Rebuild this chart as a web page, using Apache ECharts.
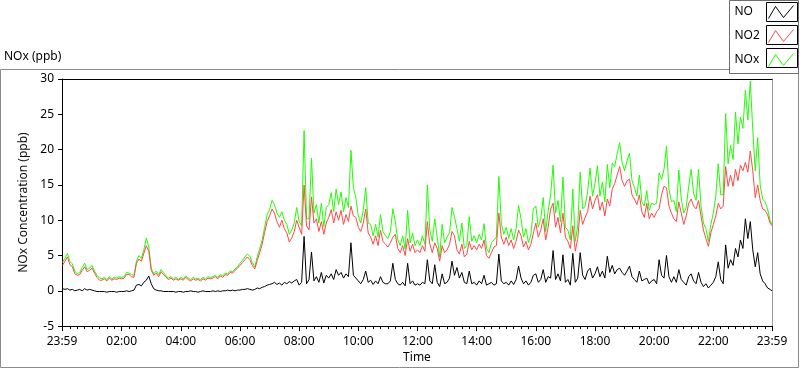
<!DOCTYPE html>
<html>
<head>
<meta charset="utf-8">
<script src="https://cdn.jsdelivr.net/npm/echarts@6/dist/echarts.min.js"></script>
<style>
  html, body { margin: 0; padding: 0; background: #fff; }
  #chart { width: 800px; height: 369px; }
</style>
</head>
<body>
<div id="chart"></div>
<script>
// 5 minute readings from 00:00, last one is 23:59
const noValues = [
  0.3, 0.2, 0.3, 0.1, 0.2, 0.0, 0.1, 0.2, 0.0, 0.3, 0.1, 0.2,
  0.1, 0.0, -0.1, -0.1, -0.1, -0.1, -0.2, -0.1, -0.1, -0.1, -0.2, -0.1,
  -0.1, -0.1, 0.0, -0.1, 0.0, 0.1, 0.8, 0.9, 0.7, 1.2, 1.5, 2.1,
  1.0, 0.3, 0.1, 0.0, 0.0, -0.1, -0.1, -0.1, -0.1, -0.1, -0.2, -0.1,
  -0.1, -0.2, -0.1, -0.1, 0.0, -0.1, -0.1, -0.2, -0.1, 0.0, -0.1, -0.1,
  -0.1, 0.0, -0.1, 0.0, -0.1, 0.0, 0.0, 0.1, 0.0, 0.1, 0.0, 0.1,
  0.1, 0.2, 0.2, 0.3, 0.2, 0.1, 0.2, 0.4, 0.3, 0.5, 0.6, 0.8,
  0.9, 1.0, 1.2, 0.9, 1.1, 0.8, 1.2, 1.0, 1.3, 1.1, 1.4, 1.6,
  0.8, 1.2, 7.7, 1.0, 1.6, 5.5, 1.4, 2.0, 1.2, 2.6, 1.1, 2.2,
  1.8, 2.4, 1.6, 3.0, 2.2, 2.6, 1.8, 2.4, 2.0, 6.8, 2.2, 1.8,
  1.4, 1.0, 1.6, 2.8, 1.2, 1.5, 0.9, 1.4, 1.0, 2.0, 1.2, 1.0,
  1.0, 1.4, 3.9, 1.6, 1.0, 0.8, 1.2, 0.7, 3.9, 1.0, 1.4, 0.8,
  1.0, 0.8, 1.2, 1.0, 4.4, 1.4, 1.0, 3.7, 1.2, 0.6, 2.4, 1.0,
  1.2, 1.8, 4.2, 2.2, 3.3, 1.8, 2.6, 1.2, 1.0, 2.8, 1.0, 1.2,
  0.8, 1.4, 1.0, 2.2, 0.8, 1.0, 1.2, 0.8, 1.0, 5.2, 1.4, 1.0,
  1.2, 0.8, 1.4, 0.9, 1.6, 3.5, 1.8, 1.0, 1.4, 0.8, 1.2, 2.2,
  2.4, 1.2, 1.6, 3.0, 1.2, 2.0, 1.8, 5.7, 1.6, 2.4, 1.4, 5.1,
  1.2, 1.6, 0.8, 5.3, 1.2, 1.8, 5.4, 2.2, 1.6, 2.8, 3.2, 1.8,
  2.4, 3.4, 2.0, 2.8, 1.8, 4.9, 2.6, 3.6, 2.4, 3.0, 3.2, 2.6,
  2.2, 2.8, 3.5, 2.0, 1.6, 1.2, 2.8, 1.4, 1.6, 1.8, 1.0, 1.4,
  1.6, 1.0, 4.4, 2.2, 1.8, 5.0, 2.0, 1.2, 2.0, 1.2, 3.0, 1.6,
  1.2, 0.8, 2.0, 2.4, 1.4, 1.0, 2.6, 1.2, 0.6, 1.0, 0.4, 0.8,
  1.2, 2.0, 4.1, 1.6, 1.0, 6.5, 3.2, 4.4, 3.6, 6.0, 4.8, 7.2,
  6.0, 10.2, 7.4, 9.8, 5.8, 3.4, 5.4, 2.4, 1.4, 1.0, 0.4, 0.2,
  0.0
];
const no2Values = [
  3.6, 4.2, 4.8, 3.7, 3.4, 2.4, 2.2, 2.3, 2.9, 3.4, 2.7, 2.9,
  3.2, 2.5, 1.9, 1.5, 1.5, 1.7, 1.4, 1.8, 1.5, 1.7, 1.6, 1.8,
  1.7, 1.8, 2.3, 2.3, 2.0, 1.9, 3.9, 4.5, 4.2, 5.3, 6.4, 5.6,
  2.9, 2.2, 2.5, 2.0, 2.7, 2.3, 1.9, 1.6, 1.8, 1.5, 1.7, 1.5,
  1.7, 1.5, 1.9, 1.6, 1.4, 1.7, 1.5, 1.6, 1.4, 1.7, 1.5, 1.8,
  1.7, 1.8, 2.0, 1.7, 2.1, 1.9, 2.3, 2.2, 2.6, 2.5, 2.9, 3.2,
  3.6, 4.0, 4.4, 4.8, 4.4, 3.6, 3.1, 4.3, 5.4, 6.6, 8.3, 9.8,
  10.6, 11.6, 11.0, 9.8, 9.0, 10.0, 8.8, 8.2, 6.9, 7.5, 8.4, 10.0,
  9.0, 8.0, 15.0, 9.2, 8.6, 13.3, 9.6, 10.2, 8.4, 9.8, 8.0, 9.6,
  10.4, 11.5, 9.6, 11.2, 10.0, 11.4, 9.4, 10.8, 9.8, 12.0, 10.6, 10.4,
  9.0, 8.4, 9.6, 11.6, 8.2, 7.6, 6.6, 7.8, 6.4, 8.6, 7.0, 6.6,
  6.2, 6.8, 7.6, 8.0, 6.0, 5.4, 6.4, 5.0, 7.4, 5.6, 6.6, 5.4,
  5.8, 5.4, 6.4, 5.6, 9.8, 6.6, 5.4, 6.8, 6.0, 4.2, 6.4, 5.4,
  5.8, 6.6, 8.4, 7.8, 5.8, 5.2, 6.6, 4.8, 5.2, 7.0, 5.8, 6.4,
  5.8, 6.6, 6.0, 7.2, 5.0, 4.6, 5.4, 6.2, 6.4, 11.0, 7.6, 6.6,
  7.6, 6.4, 7.2, 6.0, 7.0, 8.6, 7.8, 6.2, 7.0, 5.8, 6.6, 8.2,
  9.6, 7.6, 8.6, 10.2, 7.2, 9.0, 11.6, 12.4, 9.0, 10.4, 8.2, 11.0,
  7.6, 7.0, 6.0, 9.2, 5.6, 7.4, 11.4, 9.4, 10.4, 11.2, 13.4, 11.6,
  12.8, 13.6, 11.4, 12.6, 10.6, 13.0, 12.0, 14.4, 15.2, 16.4, 17.6, 15.6,
  14.8, 15.6, 15.8, 13.6, 13.0, 12.2, 13.6, 11.2, 10.4, 12.4, 10.2, 11.0,
  10.4, 11.2, 11.6, 13.6, 14.8, 14.6, 12.0, 11.0, 10.2, 9.8, 12.6, 11.0,
  9.4, 10.6, 12.4, 13.0, 12.0, 11.6, 12.8, 10.6, 8.6, 7.4, 6.3, 8.2,
  9.4, 10.6, 12.4, 11.6, 12.0, 17.6, 14.8, 16.4, 14.8, 17.2, 15.6, 17.8,
  17.0, 18.2, 16.8, 19.8, 17.0, 13.2, 15.0, 12.8, 11.6, 11.4, 10.8, 9.6,
  9.2
];
const noxValues = [
  4.0, 4.6, 5.3, 4.2, 3.8, 2.8, 2.4, 2.6, 3.3, 3.9, 3.0, 3.2,
  3.6, 2.8, 2.2, 1.8, 1.7, 1.9, 1.6, 2.0, 1.7, 1.9, 1.8, 2.0,
  1.9, 2.0, 2.6, 2.5, 2.3, 2.2, 4.2, 5.0, 4.6, 5.8, 7.5, 6.2,
  3.2, 2.4, 2.8, 2.3, 3.0, 2.6, 2.1, 1.8, 2.0, 1.7, 1.9, 1.6,
  1.9, 1.7, 2.1, 1.8, 1.6, 1.9, 1.7, 1.8, 1.6, 1.9, 1.7, 2.0,
  1.9, 2.0, 2.2, 1.9, 2.3, 2.1, 2.5, 2.4, 2.8, 2.7, 3.1, 3.4,
  3.9, 4.3, 4.8, 5.2, 4.9, 4.0, 3.4, 4.8, 6.0, 7.2, 9.0, 10.8,
  11.5, 12.8, 12.2, 11.0, 10.4, 11.2, 10.0, 9.4, 8.0, 8.6, 9.6, 11.8,
  9.8, 9.2, 22.7, 10.2, 10.2, 18.8, 11.0, 12.2, 9.6, 12.4, 9.1, 11.8,
  12.2, 13.9, 11.2, 14.4, 12.2, 14.0, 11.2, 13.2, 11.8, 19.9, 14.6, 13.2,
  10.6, 9.6, 11.4, 14.6, 9.6, 9.4, 7.8, 9.4, 7.6, 10.8, 8.4, 7.8,
  7.4, 8.4, 11.6, 9.8, 7.2, 6.4, 7.8, 5.9, 11.4, 6.8, 8.2, 6.4,
  7.2, 6.4, 7.8, 6.6, 15.0, 8.6, 7.0, 10.2, 7.6, 4.8, 9.4, 6.8,
  7.6, 8.2, 11.8, 10.5, 8.8, 7.0, 9.6, 6.0, 6.4, 10.5, 7.0, 7.8,
  6.8, 8.0, 7.2, 9.5, 6.0, 5.4, 6.8, 7.2, 7.6, 16.2, 9.6, 8.0,
  9.0, 7.4, 8.8, 7.2, 8.8, 12.1, 10.2, 7.6, 8.8, 6.8, 8.0, 11.6,
  12.0, 9.0, 10.2, 13.2, 8.4, 11.3, 13.6, 17.8, 11.0, 12.8, 9.8, 16.1,
  9.0, 8.6, 7.2, 14.4, 7.0, 9.2, 16.8, 11.6, 12.0, 14.0, 17.4, 13.4,
  15.2, 17.7, 13.4, 15.4, 12.6, 17.9, 14.6, 18.1, 17.6, 19.4, 21.0, 18.2,
  17.0, 18.4, 19.5, 15.6, 14.6, 13.4, 16.4, 12.6, 12.0, 14.2, 11.4, 12.4,
  12.2, 12.4, 16.7, 15.8, 17.2, 20.5, 14.4, 12.6, 12.8, 11.2, 17.1, 13.0,
  11.0, 11.8, 14.8, 17.2, 13.8, 12.8, 17.2, 12.0, 9.6, 8.8, 7.0, 9.4,
  11.0, 13.4, 18.0, 13.6, 13.6, 25.1, 18.0, 20.6, 18.6, 25.3, 20.8, 24.6,
  23.0, 28.4, 24.2, 29.7, 22.8, 17.0, 21.7, 15.0, 13.0, 12.6, 11.6, 10.0,
  9.4
];

// x axis in minutes, -1 = 23:59 of the day before
const majorTicks = [-1, 120, 240, 360, 480, 600, 720, 840, 960, 1080, 1200, 1320, 1439];
const minorTicks = [];
for (let m = 15; m < 1439; m += 15) {
  if (m % 120 !== 0) minorTicks.push(m);
}

const FONT = 'Noto Sans';

function clock(v) {
  if (v < 0 || v >= 1439) return '23:59';
  const h = Math.floor(v / 60);
  return (h < 10 ? '0' : '') + h + ':00';
}

function pairs(values) {
  return values.map((v, i) => [Math.min(i * 5, 1439), v]);
}

const chart = echarts.init(document.getElementById('chart'), null, { renderer: 'canvas' });

chart.setOption({
  animation: false,
  backgroundColor: '#fff',
  textStyle: { fontFamily: FONT },
  title: {
    text: 'NOx (ppb)',
    left: 4,
    top: 51,
    padding: 0,
    textStyle: { fontSize: 12, fontWeight: 'normal', color: '#000', fontFamily: FONT }
  },
  graphic: [
    // outer frame
    {
      type: 'rect', z: -10, silent: true,
      shape: { x: 0.5, y: 69.5, width: 798, height: 298 },
      style: { fill: 'none', stroke: '#8c8c8c', lineWidth: 1 }
    },
    // legend panel and the boxes round the icons
    {
      type: 'rect', z: 1, silent: true,
      shape: { x: 729.5, y: 0.5, width: 69, height: 73 },
      style: { fill: '#fff', stroke: '#6e6e6e', lineWidth: 1 }
    },
    { type: 'rect', z: 100, silent: true, shape: { x: 766.5, y: 2.5, width: 31, height: 19 }, style: { fill: 'none', stroke: '#000' } },
    { type: 'rect', z: 100, silent: true, shape: { x: 766.5, y: 25.5, width: 31, height: 19 }, style: { fill: 'none', stroke: '#000' } },
    { type: 'rect', z: 100, silent: true, shape: { x: 766.5, y: 48.5, width: 31, height: 19 }, style: { fill: 'none', stroke: '#000' } }
  ],
  legend: {
    orient: 'vertical',
    right: 3,
    top: 2,
    padding: 0,
    itemGap: 4,
    itemWidth: 31,
    itemHeight: 19,
    align: 'right',
    selectedMode: false,
    icon: 'path://M0,0M31,19M3,16L10,4L18,15L28,3',
    formatter: '{n|{name}}',
    textStyle: {
      rich: { n: { width: 26, align: 'left', fontSize: 12, fontFamily: FONT, color: '#000' } }
    },
    data: [
      { name: 'NO', itemStyle: { color: 'transparent', borderColor: '#000', borderWidth: 1 } },
      { name: 'NO2', itemStyle: { color: 'transparent', borderColor: '#ff4848', borderWidth: 1 } },
      { name: 'NOx', itemStyle: { color: 'transparent', borderColor: '#1eff00', borderWidth: 1 } }
    ]
  },
  grid: { left: 62, right: 28, top: 79, bottom: 39, containLabel: false },
  xAxis: [
    {
      type: 'value', min: -1, max: 1439, position: 'bottom',
      name: 'Time', nameLocation: 'middle', nameGap: 25,
      nameTextStyle: { fontSize: 12, color: '#000', fontFamily: FONT },
      axisLine: { show: true, onZero: false, lineStyle: { color: '#000', width: 1 } },
      axisTick: { show: true, customValues: majorTicks, length: 5, lineStyle: { color: '#000' } },
      axisLabel: { customValues: majorTicks, formatter: clock, margin: 9, fontSize: 12, color: '#000', fontFamily: FONT },
      splitLine: { show: false }
    },
    {
      type: 'value', min: -1, max: 1439, position: 'bottom', offset: 0,
      axisLine: { show: true, onZero: false, lineStyle: { color: '#000', width: 1 } },
      axisTick: { show: true, customValues: minorTicks, length: 3, lineStyle: { color: '#000' } },
      axisLabel: { show: false },
      splitLine: { show: false }
    },
    {
      type: 'value', min: -1, max: 1439, position: 'top',
      axisLine: { show: true, onZero: false, lineStyle: { color: '#000' } },
      axisTick: { show: false },
      axisLabel: { show: false },
      splitLine: { show: false }
    }
  ],
  yAxis: [
    {
      type: 'value', min: -5, max: 30, interval: 5, position: 'left',
      name: 'NOx Concentration (ppb)', nameLocation: 'middle', nameGap: 27,
      nameTextStyle: { fontSize: 12, color: '#111', fontFamily: FONT },
      axisLine: { show: true, onZero: false, lineStyle: { color: '#000', width: 1 } },
      axisTick: { show: true, length: 4, lineStyle: { color: '#000' } },
      axisLabel: { margin: 8, fontSize: 12, color: '#000', fontFamily: FONT },
      splitLine: { show: false }
    },
    {
      type: 'value', min: -5, max: 30, interval: 5, position: 'right',
      axisLine: { show: true, onZero: false, lineStyle: { color: '#9a9a9a' } },
      axisTick: { show: false },
      axisLabel: { show: false },
      splitLine: { show: false }
    }
  ],
  series: [
    {
      name: 'NOx', type: 'line', data: pairs(noxValues), color: '#1eff00', z: 1,
      showSymbol: false, symbol: 'none', sampling: null, lineStyle: { width: 1 }
    },
    {
      name: 'NO2', type: 'line', data: pairs(no2Values), color: '#ff4848', z: 2,
      showSymbol: false, symbol: 'none', sampling: null, lineStyle: { width: 1 }
    },
    {
      name: 'NO', type: 'line', data: pairs(noValues), color: '#000', z: 3,
      showSymbol: false, symbol: 'none', sampling: null, lineStyle: { width: 1 }
    }
  ]
});
</script>
</body>
</html>
